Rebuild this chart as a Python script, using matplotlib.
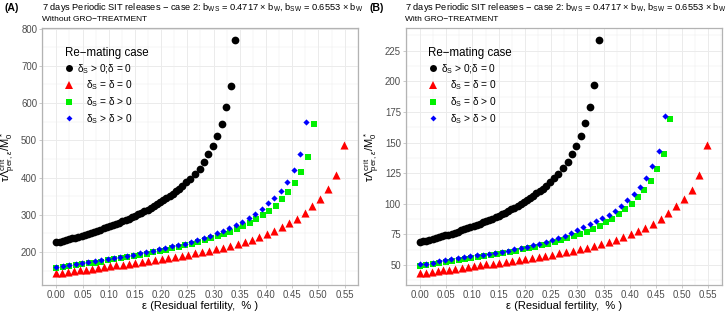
import numpy as np
import matplotlib
matplotlib.use("Agg")
import matplotlib.pyplot as plt
from matplotlib.lines import Line2D
from matplotlib.ticker import MultipleLocator, FormatStrFormatter
from matplotlib.transforms import Bbox, TransformedBbox

plt.rcParams["font.family"] = ["Liberation Sans", "DejaVu Sans"]
plt.rcParams["mathtext.fontset"] = "custom"
plt.rcParams["mathtext.rm"] = "Liberation Sans"
plt.rcParams["mathtext.it"] = "Liberation Sans:italic"
plt.rcParams["mathtext.bf"] = "Liberation Sans:bold"

# ---- data ----
eps_black = [0.000, 0.006, 0.012, 0.018, 0.024, 0.030, 0.036, 0.042, 0.048, 0.054,
             0.060, 0.066, 0.072, 0.078, 0.084, 0.090, 0.096, 0.102, 0.108, 0.114,
             0.120, 0.126, 0.132, 0.138, 0.144, 0.150, 0.156, 0.162, 0.168, 0.174,
             0.180, 0.186, 0.192, 0.198, 0.204, 0.210, 0.216, 0.222, 0.228, 0.234,
             0.240, 0.2475, 0.2557, 0.2641, 0.2731, 0.2815, 0.2900, 0.2984, 0.3068,
             0.3153, 0.3237, 0.3327, 0.3416]
black_A = [226, 228, 230, 232, 234, 236.5, 239, 241.5, 244, 246.5,
           249, 251.5, 254.5, 257.5, 260.5, 263.5, 266.5, 269.5, 272.5, 275.5,
           279, 282.5, 286, 289.5, 293, 297, 301, 305, 309.5, 314,
           318.5, 323.5, 328.5, 334, 339.5, 345, 351, 357, 363.5, 370,
           377, 387, 397, 409, 424, 442, 462, 485, 512, 545, 588, 647, 770]
black_B = [68.7, 69.3, 69.9, 70.5, 71.1, 71.9, 72.6, 73.4, 74.2, 74.9,
           75.7, 76.4, 77.4, 78.3, 79.2, 80.1, 81.0, 81.9, 82.8, 83.7,
           84.8, 85.9, 86.9, 88.0, 89.1, 90.3, 91.5, 92.7, 94.1, 95.4,
           96.8, 98.3, 99.8, 101.5, 103.2, 104.9, 106.7, 108.5, 110.5, 112.5,
           114.6, 117.6, 120.7, 124.3, 128.9, 134.3, 140.4, 147.4, 155.6, 165.7,
           178.7, 196.7, 234.0]

eps_red = [0.0000, 0.0110, 0.0221, 0.0333, 0.0446, 0.0560, 0.0675, 0.0791, 0.0908, 0.1026,
           0.1145, 0.1265, 0.1386, 0.1508, 0.1631, 0.1755, 0.1880, 0.2006, 0.2133, 0.2261,
           0.2390, 0.2520, 0.2651, 0.2783, 0.2916, 0.3050, 0.3185, 0.3321, 0.3458, 0.3596,
           0.3735, 0.3875, 0.4016, 0.4158, 0.4301, 0.4445, 0.4590, 0.4736, 0.4883, 0.5031,
           0.5180, 0.5330, 0.5481]
red_A = [143, 145, 147, 149, 151, 153, 155, 157, 159, 161.5,
         164, 166.5, 169, 171.5, 174, 176.5, 179, 181.5, 184, 187,
         190, 193, 196.5, 200, 204, 208, 212, 216.5, 221.5, 227,
         233, 240, 247.5, 256, 266, 277, 290, 305, 323, 343,
         368, 407, 488]
red_B = [43.3, 43.9, 44.5, 45.2, 45.8, 46.4, 47.0, 47.6, 48.2, 48.9,
         49.7, 50.5, 51.2, 52.0, 52.7, 53.5, 54.2, 55.0, 55.8, 56.7,
         57.6, 58.5, 59.5, 60.6, 61.8, 63.0, 64.2, 65.6, 67.1, 68.8,
         70.6, 72.7, 75.0, 77.6, 80.6, 83.9, 87.9, 92.4, 97.9, 103.9,
         111.5, 123.3, 147.9]

eps_green_A = [0.0000, 0.0123, 0.0246, 0.0369, 0.0492, 0.0615, 0.0738, 0.0861, 0.0984, 0.1107,
               0.1230, 0.1353, 0.1476, 0.1599, 0.1722, 0.1845, 0.1968, 0.2091, 0.2214, 0.2337,
               0.2460, 0.2583, 0.2706, 0.2829, 0.2952, 0.3075, 0.3198, 0.3321, 0.3444, 0.3567,
               0.3690, 0.3813, 0.3936, 0.4059, 0.4182, 0.4305, 0.4428, 0.4551, 0.4674, 0.4797,
               0.4920]
green_A = [157, 159.5, 162, 164.5, 167, 169.5, 172, 174.5, 177.5, 180.5,
           183.5, 186.5, 189.5, 192.5, 195.5, 199, 202.5, 206, 210, 214,
           218, 222.5, 227, 232, 236.5, 242, 248, 254.5, 261.5, 269.5,
           278, 288, 299, 311, 325, 341.5, 360, 385, 414, 456.5,
           544]

eps_blue_A = [0.0000, 0.0122, 0.0245, 0.0367, 0.0489, 0.0612, 0.0734, 0.0856, 0.0978, 0.1101,
              0.1223, 0.1345, 0.1468, 0.1590, 0.1712, 0.1835, 0.1957, 0.2079, 0.2201, 0.2324,
              0.2446, 0.2568, 0.2691, 0.2813, 0.2935, 0.3058, 0.3180, 0.3302, 0.3424, 0.3547,
              0.3669, 0.3791, 0.3914, 0.4036, 0.4158, 0.4281, 0.4403, 0.4525, 0.4647, 0.4770]
blue_A = [160.5, 163, 165.5, 168, 170.5, 173, 175.5, 178.5, 181.5, 184.5,
          187.5, 190.5, 193.5, 196.5, 200, 203.5, 207, 211, 215, 219,
          223, 227.5, 232, 237.5, 243.5, 250, 257, 264.5, 272.5, 281.5,
          291.5, 303, 316.5, 331, 346, 365, 388, 419, 462, 550]

eps_green_B = eps_blue_A
green_B = [49.5, 50.3, 51.1, 51.9, 52.8, 53.6, 54.4, 55.2, 56.0, 56.8,
           57.6, 58.4, 59.2, 60.0, 60.9, 61.8, 62.8, 63.8, 64.9, 66.1,
           67.4, 68.8, 70.3, 71.9, 73.6, 75.4, 77.4, 79.6, 82.0, 84.8,
           88.0, 91.6, 95.7, 100.2, 105.4, 111.6, 119.0, 128.2, 141.0, 168.9]

eps_blue_B = [0.0000, 0.0120, 0.0240, 0.0360, 0.0479, 0.0599, 0.0719, 0.0839, 0.0959, 0.1079,
              0.1199, 0.1318, 0.1438, 0.1558, 0.1678, 0.1798, 0.1918, 0.2037, 0.2157, 0.2277,
              0.2397, 0.2517, 0.2637, 0.2757, 0.2876, 0.2996, 0.3116, 0.3236, 0.3356, 0.3476,
              0.3596, 0.3715, 0.3835, 0.3955, 0.4075, 0.4195, 0.4315, 0.4434, 0.4554, 0.4674]
blue_B = [50.5, 51.3, 52.1, 53.0, 53.9, 54.7, 55.5, 56.3, 57.1, 57.9,
          58.6, 59.4, 60.2, 61.0, 61.9, 62.9, 63.9, 65.0, 66.1, 67.4,
          68.8, 70.4, 72.2, 74.1, 76.1, 78.3, 80.7, 83.2, 85.8, 88.5,
          91.2, 94.4, 98.4, 103.0, 108.0, 114.0, 121.0, 130.5, 143.3, 171.7]

CASE_LABELS = ["δ$_\\mathrm{S}$ > 0;δ = 0", "δ$_\\mathrm{S}$ = δ = 0",
               "δ$_\\mathrm{S}$ = δ > 0", "δ$_\\mathrm{S}$ > δ > 0"]
COLORS = ["#000000", "#FF0000", "#00F000", "#0000FF"]
MARKERS = ["o", "^", "s", "D"]
SIZES = [31, 34, 22, 10]     # scatter sizes (pt^2)
LEG_MS = [5.0, 5.4, 4.5, 3.0]

TITLE = ("7 days Periodic SIT releases − case 2: b$_\\mathrm{WS}$ = 0.4717 × b$_\\mathrm{W}$, "
         "b$_\\mathrm{SW}$ = 0.6553 × b$_\\mathrm{W}$")
SUBTITLES = ["Without GRO−TREATMENT", "With GRO−TREATMENT"]
TAGS = ["(A)", "(B)"]
XLABEL = "ε (Residual fertility,  % )"
YLABEL = "τΛ$^{\\mathrm{crit}}_{\\mathrm{per},\\,ε}$/M$_0^*$"

panels = [
    [(eps_black, black_A), (eps_red, red_A), (eps_green_A, green_A), (eps_blue_A, blue_A)],
    [(eps_black, black_B), (eps_red, red_B), (eps_green_B, green_B), (eps_blue_B, blue_B)],
]
y_steps = [100, 25]

W, H = 727, 312
fig = plt.figure(figsize=(W / 100, H / 100), dpi=100)
fig.patch.set_facecolor("white")

GRID = "#EBEBEB"
BORDER = "#B3B3B3"
TICKC = "#4D4D4D"


def px(x, y):
    return x / W, 1 - y / H


legends = []
for k, (series, ystep) in enumerate(zip(panels, y_steps)):
    x0 = [42.0, 405.7][k]
    ax = fig.add_axes([x0 / W, (H - 285) / H, 316 / W, 257 / H])
    for (ex, ey), c, m, s in zip(series, COLORS, MARKERS, SIZES):
        ax.scatter(ex, ey, s=s, c=c, marker=m, linewidths=0, zorder=3)
    ax.margins(x=0.05, y=0.05)
    ax.xaxis.set_major_locator(MultipleLocator(0.05))
    ax.xaxis.set_minor_locator(MultipleLocator(0.025))
    ax.xaxis.set_major_formatter(FormatStrFormatter("%.2f"))
    ax.yaxis.set_major_locator(MultipleLocator(ystep))
    ax.yaxis.set_minor_locator(MultipleLocator(ystep / 2))
    ax.grid(which="major", color=GRID, lw=0.7, zorder=0)
    ax.grid(which="minor", color=GRID, lw=0.35, zorder=0)
    ax.set_axisbelow(True)
    for sp in ax.spines.values():
        sp.set_color(BORDER)
        sp.set_linewidth(0.9)
    ax.tick_params(which="major", length=2, width=0.5, color=BORDER, labelsize=6.9,
                   labelcolor=TICKC, pad=1.5)
    ax.tick_params(which="minor", length=0)
    ax.set_xlabel(XLABEL, fontsize=8, labelpad=1)
    ax.set_ylabel(YLABEL, fontsize=8, labelpad=2)

    handles = [Line2D([], [], ls="none", marker=m, color=c, markersize=ms, markeredgewidth=0)
               for m, c, ms in zip(MARKERS, COLORS, LEG_MS)]
    leg = ax.legend(handles, CASE_LABELS, title="Re−mating case", loc="upper left",
                    bbox_to_anchor=(0.072, 0.925), frameon=False, fontsize=7.3,
                    title_fontsize=8.3, handlelength=0.9, handletextpad=0.35,
                    labelspacing=0.28, borderpad=0, borderaxespad=0, alignment="left")
    legends.append(leg)

    # titles, subtitle and panel tag
    tx, ty = px(x0 - 0.3, 7.5)
    t = fig.text(tx, ty, TITLE, fontsize=6.7, va="center", ha="left")
    if k == 0:
        t.set_clip_box(TransformedBbox(Bbox([[0, 0], [366 / W, 1]]), fig.transFigure))
        t.set_clip_on(True)
    sx, sy = px(x0 - 0.3, 19.3)
    fig.text(sx, sy, SUBTITLES[k], fontsize=6.0, va="center", ha="left")
    gx, gy = px([4.5, 369][k], 8)
    fig.text(gx, gy, TAGS[k], fontsize=7.6, fontweight="bold", va="center", ha="left")

# right-align legend labels (ggplot style) by padding each row
fig.canvas.draw()
r = fig.canvas.get_renderer()
for leg in legends:
    texts = leg.get_texts()
    widths = [t.get_window_extent(r).width for t in texts]
    wmax = max(widths)
    rows = leg._legend_handle_box.get_children()[0].get_children()
    for row, w in zip(rows, widths):
        row.sep = row.sep + (wmax - w) * 72 / fig.dpi

fig.savefig("out.png", dpi=100, facecolor="white")
